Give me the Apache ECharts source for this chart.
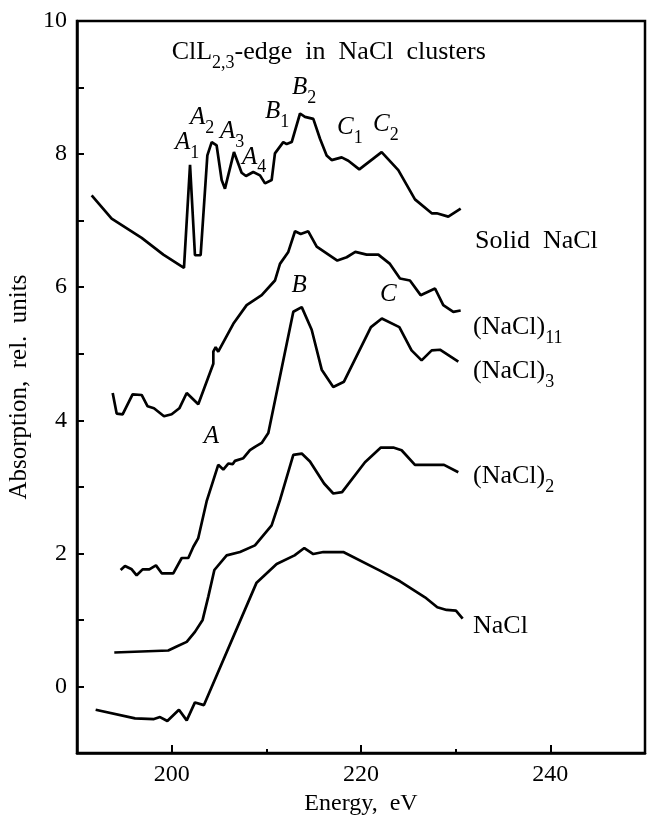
<!DOCTYPE html>
<html>
<head>
<meta charset="utf-8">
<script src="https://cdn.jsdelivr.net/npm/echarts@6/dist/echarts.min.js"></script>
<style>
  html, body { margin: 0; padding: 0; background: #fff; }
  #chart { width: 648px; height: 817px; }
</style>
</head>
<body>
<div id="chart"></div>
<script>
// energy (eV), absorption (rel. units)
var solidNaCl = [
  [191.55, 7.38], [193.66, 7.03], [196.83, 6.74], [199.12, 6.49], [201.30, 6.29],
  [201.94, 7.84], [202.46, 6.48], [203.06, 6.48], [203.77, 7.98], [204.23, 8.18],
  [204.75, 8.13], [205.28, 7.61], [205.63, 7.48], [206.58, 8.03], [207.39, 7.72],
  [207.85, 7.67], [208.62, 7.73], [209.33, 7.68], [209.86, 7.56], [210.56, 7.61],
  [210.91, 8.01], [211.79, 8.18], [212.15, 8.15], [212.68, 8.18], [213.56, 8.61],
  [214.08, 8.56], [214.96, 8.53], [215.67, 8.23], [216.37, 7.98], [216.90, 7.91],
  [217.96, 7.95], [218.66, 7.90], [219.82, 7.77], [222.18, 8.03], [223.94, 7.76],
  [225.70, 7.32], [227.47, 7.11], [228.00, 7.11], [229.22, 7.06], [230.53, 7.18]
];
var nacl11 = [
  [193.77, 4.41], [194.19, 4.10], [194.82, 4.09], [195.87, 4.39], [196.83, 4.38],
  [197.46, 4.21], [198.13, 4.18], [199.19, 4.06], [200.00, 4.09], [200.81, 4.18],
  [201.59, 4.41], [202.81, 4.24], [204.40, 4.85], [204.40, 5.03], [204.65, 5.10],
  [204.92, 5.03], [206.51, 5.45], [207.92, 5.73], [209.51, 5.88], [210.91, 6.10],
  [211.44, 6.35], [212.32, 6.53], [213.03, 6.84], [213.63, 6.80], [214.43, 6.84],
  [215.32, 6.61], [217.50, 6.40], [218.49, 6.45], [219.40, 6.53], [220.60, 6.49],
  [221.83, 6.49], [223.06, 6.35], [224.12, 6.13], [225.17, 6.10], [226.30, 5.88],
  [227.82, 5.98], [228.69, 5.73], [229.75, 5.63], [230.53, 5.65]
];
var nacl3 = [
  [194.61, 1.75], [195.07, 1.81], [195.78, 1.76], [196.30, 1.67], [196.93, 1.76],
  [197.64, 1.76], [198.34, 1.82], [198.95, 1.70], [200.17, 1.70], [201.06, 1.93],
  [201.76, 1.93], [202.29, 2.10], [202.81, 2.23], [203.69, 2.78], [204.92, 3.33],
  [205.45, 3.26], [205.98, 3.35], [206.44, 3.34], [206.69, 3.39], [207.57, 3.43],
  [208.27, 3.55], [208.80, 3.60], [209.51, 3.66], [210.21, 3.81], [212.85, 5.63],
  [213.74, 5.70], [214.79, 5.36], [215.85, 4.76], [217.07, 4.50], [218.20, 4.58],
  [221.05, 5.40], [222.20, 5.53], [224.05, 5.40], [225.34, 5.05], [226.40, 4.90],
  [227.47, 5.05], [228.34, 5.06], [230.28, 4.88]
];
var nacl2 = [
  [193.94, 0.51], [199.64, 0.54], [200.53, 0.60], [201.59, 0.67], [202.46, 0.82],
  [203.27, 1.00], [203.87, 1.35], [204.51, 1.75], [205.81, 1.97], [207.22, 2.02],
  [208.80, 2.12], [210.56, 2.42], [211.44, 2.80], [212.85, 3.48], [213.74, 3.50],
  [214.61, 3.38], [216.10, 3.05], [217.07, 2.90], [218.00, 2.92], [220.42, 3.37],
  [222.10, 3.59], [223.41, 3.59], [224.29, 3.55], [225.70, 3.33], [228.77, 3.33],
  [230.28, 3.22]
];
var nacl = [
  [191.97, -0.35], [196.13, -0.48], [198.13, -0.49], [198.77, -0.46], [199.54, -0.52],
  [200.77, -0.35], [201.59, -0.51], [202.46, -0.24], [203.41, -0.28], [208.97, 1.56],
  [211.09, 1.84], [212.98, 1.97], [214.01, 2.08], [214.96, 1.99], [216.02, 2.02],
  [218.13, 2.02], [222.00, 1.74], [224.12, 1.58], [226.76, 1.34], [228.06, 1.19],
  [229.04, 1.15], [230.03, 1.14], [230.74, 1.02]
];

// feature labels: [energy, absorption, rich text]
var peakLabels = [
  [200.35, 8.12, '{i|A}{s|1}'],
  [201.94, 8.50, '{i|A}{s|2}'],
  [205.11, 8.29, '{i|A}{s|3}'],
  [207.43, 7.90, '{i|A}{s|4}'],
  [209.86, 8.59, '{i|B}{s|1}'],
  [212.71, 8.95, '{i|B}{s|2}'],
  [217.46, 8.35, '{i|C}{s|1}'],
  [221.27, 8.39, '{i|C}{s|2}'],
  [203.40, 3.70, '{i|A}'],
  [212.65, 5.98, '{i|B}'],
  [222.00, 5.84, '{i|C}']
];
var curveLabels = [
  [232.04, 6.64, '{n|Solid  NaCl}'],
  [231.83, 5.34, '{n|(NaCl)}{s|11}'],
  [231.83, 4.68, '{n|(NaCl)}{s|3}'],
  [231.83, 3.10, '{n|(NaCl)}{s|2}'],
  [231.83, 0.86, '{n|NaCl}']
];
var titleLabel = [[200.0, 9.48, '{n|ClL}{s|2,3}{n|-edge  in  NaCl  clusters}']];

var xMajor = [200, 220, 240];
var xMinor = [210, 230];
var yLabels = [0, 2, 4, 6, 8, 10];

var FONT = 'Liberation Serif';
var rich = {
  i: { fontFamily: FONT, fontSize: 25, fontStyle: 'italic', color: '#000', verticalAlign: 'bottom', padding: [0, 0, 7, 0] },
  n: { fontFamily: FONT, fontSize: 26, color: '#000', verticalAlign: 'bottom', padding: [0, 0, 7, 0] },
  s: { fontFamily: FONT, fontSize: 18, color: '#000', verticalAlign: 'bottom' }
};

function curve(name, data) {
  return {
    name: name,
    type: 'line',
    data: data,
    showSymbol: false,
    symbol: 'none',
    lineStyle: { color: '#000', width: 2.7 },
    animation: false
  };
}

function textSeries(data) {
  return {
    type: 'scatter',
    data: data,
    symbolSize: 0,
    animation: false,
    silent: true,
    itemStyle: { opacity: 1 },
    label: {
      show: true,
      position: 'right',
      distance: 0,
      color: '#000',
      opacity: 1,
      formatter: function (p) { return p.data[2]; },
      rich: rich
    }
  };
}

var myChart = echarts.init(document.getElementById('chart'));
myChart.setOption({
  backgroundColor: '#fff',
  grid: {
    left: 77, right: 3, top: 21, bottom: 64,
    outerBoundsMode: 'none',
    containLabel: false,
    show: true, borderColor: '#000', borderWidth: 2.5
  },
  xAxis: [{
    type: 'value',
    min: 190, max: 250, interval: 10,
    name: 'Energy,  eV',
    nameLocation: 'middle',
    nameGap: 32,
    nameTextStyle: { fontFamily: FONT, fontSize: 24, color: '#000' },
    axisLine: { show: true, onZero: false, lineStyle: { color: '#000', width: 2.5 } },
    axisTick: { show: true, inside: true, length: 8, customValues: xMajor, lineStyle: { color: '#000', width: 2 } },
    axisLabel: { customValues: xMajor, fontFamily: FONT, fontSize: 24, color: '#000', margin: 10 },
    splitLine: { show: false }
  }, {
    type: 'value',
    min: 190, max: 250, interval: 10,
    position: 'bottom',
    axisLine: { show: false, onZero: false },
    axisTick: { show: true, inside: true, length: 4, customValues: xMinor, lineStyle: { color: '#000', width: 2 } },
    axisLabel: { show: false },
    splitLine: { show: false }
  }],
  yAxis: {
    type: 'value',
    min: -1, max: 10, interval: 1,
    name: 'Absorption,  rel.  units',
    nameLocation: 'middle',
    nameGap: 40,
    nameRotate: 90,
    nameTextStyle: { fontFamily: FONT, fontSize: 25, color: '#000' },
    axisLine: { show: true, onZero: false, lineStyle: { color: '#000', width: 2.5 } },
    axisTick: { show: true, inside: true, length: 7, lineStyle: { color: '#000', width: 2 } },
    axisLabel: { customValues: yLabels, fontFamily: FONT, fontSize: 24, color: '#000', margin: 10 },
    splitLine: { show: false }
  },
  series: [
    curve('Solid NaCl', solidNaCl),
    curve('(NaCl)11', nacl11),
    curve('(NaCl)3', nacl3),
    curve('(NaCl)2', nacl2),
    curve('NaCl', nacl),
    textSeries(peakLabels),
    textSeries(curveLabels),
    textSeries(titleLabel)
  ]
});
</script>
</body>
</html>
